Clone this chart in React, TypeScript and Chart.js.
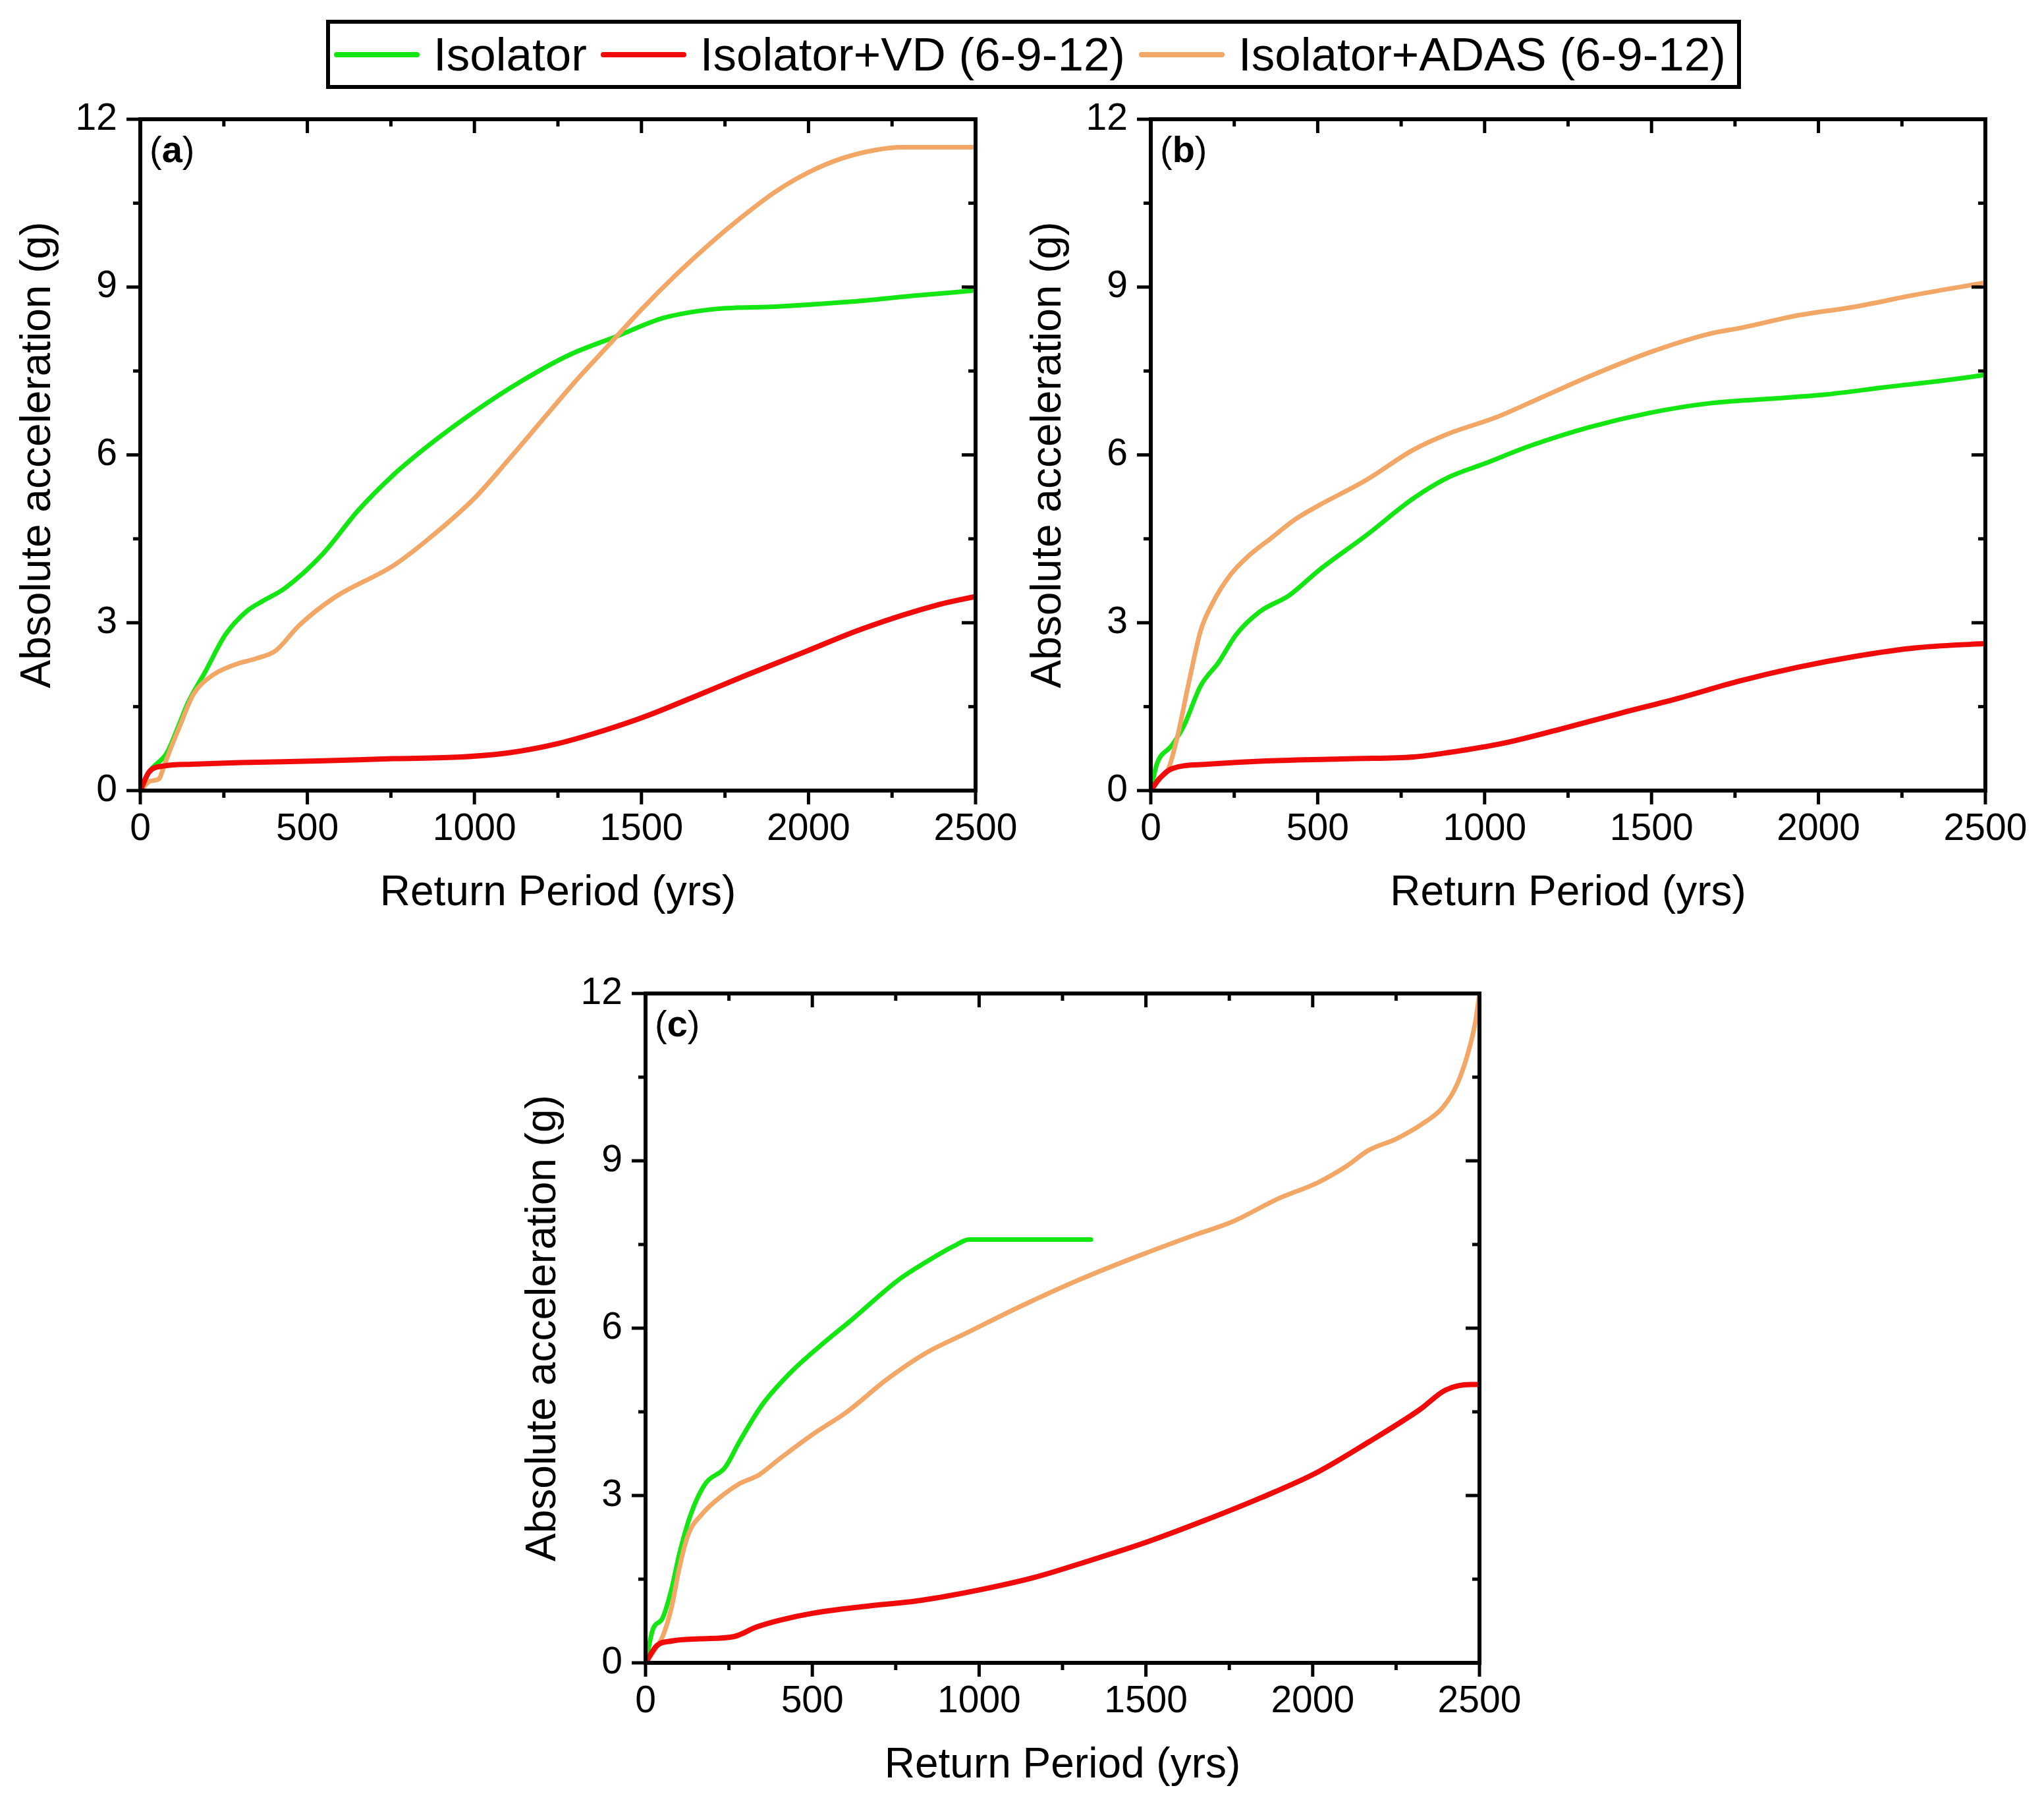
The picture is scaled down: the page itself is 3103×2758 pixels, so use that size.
import React, { useEffect, useRef } from 'react';
import { Chart, registerables } from 'chart.js';

Chart.register(...registerables);

// ---------- labels / ticks ----------
const SERIES_NAMES = ['Isolator', 'Isolator+VD (6-9-12)', 'Isolator+ADAS (6-9-12)'];
const SERIES_COLORS = ['#14E614', '#F00A0A', '#F2A766'];
const X_TITLE = 'Return Period (yrs)';
const Y_TITLE = 'Absolute acceleration (g)';
const X_MAJOR = [0, 500, 1000, 1500, 2000, 2500];
const X_MINOR = [250, 750, 1250, 1750, 2250];
const Y_MAJOR = [0, 3, 6, 9, 12];
const Y_MINOR = [1.5, 4.5, 7.5, 10.5];

// ---------- panel (a) ----------
const A_ISO_X = [0, 26, 79, 116, 141, 194, 255, 317, 370, 431, 546, 651, 757, 863, 1004, 1144, 1285, 1426, 1567, 1725, 1901, 2130, 2306, 2500];
const A_ISO_Y = [0, 0.33, 0.67, 1.18, 1.55, 2.12, 2.79, 3.2, 3.4, 3.61, 4.23, 5.0, 5.64, 6.17, 6.79, 7.33, 7.79, 8.12, 8.45, 8.61, 8.65, 8.74, 8.84, 8.94];
const A_VD_X = [0, 26, 71, 154, 300, 532, 757, 960, 1109, 1250, 1391, 1514, 1655, 1813, 1989, 2165, 2394, 2500];
const A_VD_Y = [0, 0.33, 0.44, 0.47, 0.5, 0.53, 0.57, 0.6, 0.68, 0.84, 1.08, 1.33, 1.67, 2.06, 2.48, 2.9, 3.33, 3.47];
const A_ADAS_X = [0, 30, 56, 71, 94, 120, 158, 211, 282, 352, 405, 475, 581, 757, 863, 1004, 1100, 1200, 1300, 1400, 1500, 1600, 1700, 1800, 1900, 2000, 2100, 2200, 2280, 2500];
const A_ADAS_Y = [0, 0.17, 0.21, 0.44, 0.8, 1.18, 1.71, 2.04, 2.25, 2.37, 2.5, 2.95, 3.45, 4.02, 4.5, 5.25, 5.9, 6.6, 7.3, 7.95, 8.6, 9.2, 9.75, 10.25, 10.7, 11.05, 11.3, 11.45, 11.5, 11.5];

// ---------- panel (b) ----------
const B_ISO_X = [0, 18, 62, 97, 150, 203, 256, 327, 415, 504, 645, 786, 892, 998, 1140, 1316, 1493, 1670, 1846, 2023, 2200, 2376, 2500];
const B_ISO_Y = [0, 0.47, 0.8, 1.13, 1.88, 2.29, 2.79, 3.2, 3.49, 3.94, 4.56, 5.22, 5.6, 5.84, 6.17, 6.5, 6.75, 6.92, 7.0, 7.08, 7.21, 7.33, 7.43];
const B_VD_X = [0, 27, 62, 168, 345, 610, 786, 892, 1051, 1228, 1405, 1581, 1758, 1935, 2111, 2288, 2500];
const B_VD_Y = [0, 0.22, 0.39, 0.47, 0.53, 0.57, 0.6, 0.68, 0.84, 1.1, 1.38, 1.65, 1.95, 2.2, 2.4, 2.55, 2.63];
const B_ADAS_X = [0, 27, 53, 80, 115, 150, 186, 239, 292, 362, 433, 504, 645, 786, 892, 1034, 1175, 1316, 1493, 1670, 1776, 1935, 2111, 2288, 2500];
const B_ADAS_Y = [0, 0.22, 0.39, 0.97, 1.96, 2.87, 3.36, 3.86, 4.19, 4.52, 4.85, 5.1, 5.55, 6.09, 6.38, 6.67, 7.04, 7.41, 7.83, 8.16, 8.28, 8.49, 8.65, 8.86, 9.08];

// ---------- panel (c) ----------
const C_ISO_X = [0, 22, 51, 77, 102, 136, 179, 238, 281, 349, 434, 519, 620, 757, 842, 927, 969, 1335];
const C_ISO_Y = [0, 0.6, 0.8, 1.3, 1.97, 2.67, 3.21, 3.5, 3.96, 4.62, 5.2, 5.66, 6.16, 6.86, 7.19, 7.48, 7.59, 7.59];
const C_VD_X = [0, 34, 77, 162, 264, 332, 400, 502, 655, 825, 995, 1165, 1335, 1505, 1675, 1845, 2015, 2168, 2321, 2398, 2474, 2500];
const C_VD_Y = [0, 0.31, 0.39, 0.43, 0.47, 0.64, 0.76, 0.89, 1.01, 1.12, 1.3, 1.53, 1.84, 2.17, 2.55, 2.96, 3.42, 3.96, 4.54, 4.89, 4.99, 4.99];
const C_ADAS_X = [0, 26, 51, 77, 102, 128, 170, 230, 281, 340, 400, 502, 604, 723, 842, 961, 1131, 1301, 1471, 1641, 1760, 1896, 2015, 2100, 2168, 2253, 2338, 2389, 2432, 2466, 2488, 2500];
const C_ADAS_Y = [0, 0.22, 0.47, 0.97, 1.72, 2.3, 2.67, 3.0, 3.21, 3.37, 3.65, 4.1, 4.5, 5.08, 5.56, 5.91, 6.41, 6.87, 7.28, 7.66, 7.91, 8.32, 8.61, 8.9, 9.19, 9.4, 9.7, 9.95, 10.36, 10.94, 11.5, 12.0];

const FONT = "'Liberation Sans', Arial, Helvetica, sans-serif";
const PAGE_W = 3103;
const PAGE_H = 2758;

type Area = { left: number; top: number; right: number; bottom: number };
type PanelDef = {
  label: string;
  area: Area;
  xs: number[][];
  ys: number[][];
};

const PANELS: PanelDef[] = [
  { label: 'a', area: { left: 213, top: 181, right: 1481, bottom: 1200 }, xs: [A_ISO_X, A_VD_X, A_ADAS_X], ys: [A_ISO_Y, A_VD_Y, A_ADAS_Y] },
  { label: 'b', area: { left: 1747, top: 181, right: 3014, bottom: 1200 }, xs: [B_ISO_X, B_VD_X, B_ADAS_X], ys: [B_ISO_Y, B_VD_Y, B_ADAS_Y] },
  { label: 'c', area: { left: 980, top: 1508, right: 2246, bottom: 2524 }, xs: [C_ISO_X, C_VD_X, C_ADAS_X], ys: [C_ISO_Y, C_VD_Y, C_ADAS_Y] },
];

const Y_AXIS_W = 213;
const PAD_TOP = 40;
const PAD_RIGHT = 80;

const framePlugin = {
  id: 'frame',
  afterDatasetsDraw(chart: any, _args: any, opts: any) {
    const { ctx, chartArea } = chart;
    const { left, right, top, bottom } = chartArea;
    const xs = chart.scales.x;
    const ys = chart.scales.y;
    ctx.save();
    ctx.strokeStyle = '#000';
    ctx.lineCap = 'butt';
    ctx.lineWidth = 5;
    const line = (x1: number, y1: number, x2: number, y2: number) => {
      ctx.beginPath();
      ctx.moveTo(x1, y1);
      ctx.lineTo(x2, y2);
      ctx.stroke();
    };
    const major = 21;
    const minor = 11;
    X_MAJOR.forEach((v) => {
      const p = xs.getPixelForValue(v);
      line(p, bottom, p, bottom + major);
      line(p, top, p, top + major);
    });
    X_MINOR.forEach((v) => {
      const p = xs.getPixelForValue(v);
      line(p, bottom, p, bottom + minor);
      line(p, top, p, top + minor);
    });
    Y_MAJOR.forEach((v) => {
      const p = ys.getPixelForValue(v);
      line(left, p, left - major, p);
      line(right, p, right - major, p);
    });
    Y_MINOR.forEach((v) => {
      const p = ys.getPixelForValue(v);
      line(left, p, left - minor, p);
      line(right, p, right - minor, p);
    });
    // frame
    ctx.lineWidth = 6;
    ctx.strokeRect(left, top, right - left, bottom - top);
    // panel label "(a)" with bold letter
    const label = opts && opts.label;
    if (label) {
      const size = 56;
      let x = left + 14;
      const y = top + 65;
      ctx.fillStyle = '#000';
      ctx.textBaseline = 'alphabetic';
      ctx.textAlign = 'left';
      ctx.font = `${size}px ${FONT}`;
      ctx.fillText('(', x, y);
      x += ctx.measureText('(').width;
      ctx.font = `bold ${size}px ${FONT}`;
      ctx.fillText(label, x, y);
      x += ctx.measureText(label).width;
      ctx.font = `${size}px ${FONT}`;
      ctx.fillText(')', x, y);
    }
    ctx.restore();
  },
};

function PanelChart({ def }: { def: PanelDef }) {
  const ref = useRef<HTMLCanvasElement | null>(null);
  const { area } = def;
  const canvasLeft = area.left - Y_AXIS_W;
  const canvasTop = area.top - PAD_TOP;
  const canvasW = area.right - area.left + Y_AXIS_W + PAD_RIGHT;
  const xAxisH = Math.min(240, PAGE_H - area.bottom);
  const canvasH = area.bottom - canvasTop + xAxisH;

  useEffect(() => {
    if (!ref.current) return;
    const orders = [3, 1, 2];
    const widths = [7, 8, 7];
    const datasets = def.xs.map((xArr, i) => ({
      label: SERIES_NAMES[i],
      data: xArr.map((x, k) => ({ x, y: def.ys[i][k] })),
      borderColor: SERIES_COLORS[i],
      backgroundColor: SERIES_COLORS[i],
      borderWidth: widths[i],
      pointRadius: 0,
      pointHoverRadius: 0,
      fill: false,
      cubicInterpolationMode: 'monotone' as const,
      order: orders[i],
      borderJoinStyle: 'round' as const,
      borderCapStyle: 'round' as const,
    }));
    const titleOffset = 156; // from axis line to title centre
    const chart = new Chart(ref.current, {
      type: 'line',
      data: { datasets },
      plugins: [framePlugin],
      options: {
        animation: false,
        responsive: false,
        devicePixelRatio: 1,
        layout: { padding: { left: 0, top: PAD_TOP, right: PAD_RIGHT, bottom: 0 } },
        plugins: {
          legend: { display: false },
          tooltip: { enabled: false },
          // @ts-ignore
          frame: { label: def.label },
        },
        scales: {
          x: {
            type: 'linear',
            min: 0,
            max: 2500,
            afterFit: (s: any) => {
              s.height = xAxisH;
              s.paddingLeft = 0;
              s.paddingRight = 0;
            },
            ticks: {
              stepSize: 500,
              font: { size: 57, family: FONT },
              color: '#000',
              padding: 25,
              maxRotation: 0,
              autoSkip: false,
              callback: (v: any) => String(v),
            },
            grid: { display: false, drawTicks: false },
            border: { display: false },
            title: {
              display: true,
              text: X_TITLE,
              color: '#000',
              font: { size: 64, family: FONT },
              padding: { top: 0, bottom: xAxisH - titleOffset - 38.4 },
            },
          },
          y: {
            type: 'linear',
            min: 0,
            max: 12,
            afterFit: (s: any) => {
              s.width = Y_AXIS_W;
              s.paddingTop = 0;
              s.paddingBottom = 0;
            },
            ticks: {
              stepSize: 3,
              font: { size: 57, family: FONT },
              color: '#000',
              padding: 35,
              callback: (v: any) => String(v),
            },
            grid: { display: false, drawTicks: false },
            border: { display: false },
            title: {
              display: true,
              text: Y_TITLE,
              color: '#000',
              font: { size: 64, family: FONT },
              padding: { top: 20, bottom: 0 },
            },
          },
        },
      } as any,
    });
    return () => chart.destroy();
  }, []);

  return (
    <canvas
      ref={ref}
      width={canvasW}
      height={canvasH}
      style={{ position: 'absolute', left: canvasLeft, top: canvasTop, width: canvasW, height: canvasH }}
    />
  );
}

function Legend() {
  return (
    <div
      style={{
        position: 'absolute',
        left: 495,
        top: 30,
        width: 2148,
        height: 105,
        boxSizing: 'border-box',
        border: '6px solid #000',
        display: 'flex',
        alignItems: 'center',
        paddingLeft: 6,
        fontFamily: FONT,
        fontSize: 71,
        color: '#000',
        whiteSpace: 'nowrap',
        background: '#fff',
      }}
    >
      {SERIES_NAMES.map((name, i) => (
        <React.Fragment key={name}>
          <span
            style={{
              display: 'inline-block',
              width: 130,
              height: 8,
              borderRadius: 4,
              background: SERIES_COLORS[i],
              marginLeft: i === 0 ? 0 : 21,
              marginRight: 21,
            }}
          />
          <span>{name}</span>
        </React.Fragment>
      ))}
    </div>
  );
}

export default function App() {
  useEffect(() => {
    document.body.style.margin = '0';
    document.body.style.overflow = 'hidden';
  }, []);
  return (
    <div
      style={{
        position: 'fixed',
        left: 0,
        top: 0,
        width: PAGE_W,
        height: PAGE_H,
        overflow: 'hidden',
        background: '#fff',
      }}
    >
      <Legend />
      {PANELS.map((p) => (
        <PanelChart key={p.label} def={p} />
      ))}
    </div>
  );
}
